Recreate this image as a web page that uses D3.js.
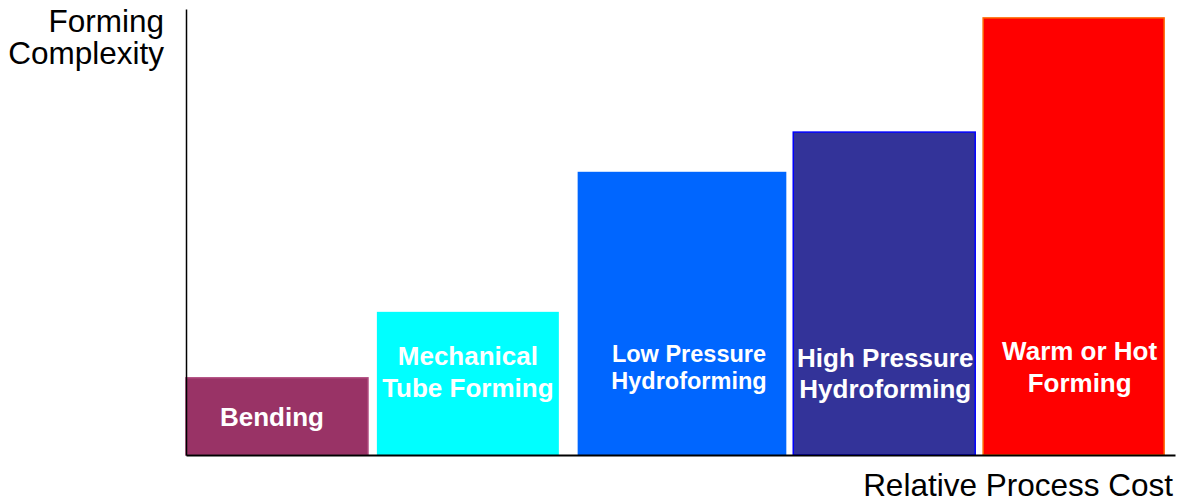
<!DOCTYPE html>
<html>
<head>
<meta charset="utf-8">
<script src="https://cdn.jsdelivr.net/npm/d3@7"></script>
<style>
  body { margin: 0; background: #fff; }
  text { font-family: "Liberation Sans", Arial, sans-serif; }
</style>
</head>
<body>
<svg id="chart"></svg>
<script>
// Dados
var processes = ["Bending", "Mechanical\nTube Forming", "Low Pressure\nHydroforming", "High Pressure\nHydroforming", "Warm or Hot\nForming"];
var costStart = [0, 19.3, 39.6, 61.4, 80.6];
var costEnd = [18.4, 37.7, 60.7, 79.8, 98.9];
var complexity = [17.3, 32.1, 63.5, 72.4, 98.0];
var fillColors = ["#993366", "#00FFFF", "#0066FF", "#333399", "#FF0000"];
var strokeColors = ["#B04A7E", "none", "none", "#0000FF", "#FF6600"];

var data = processes.map(function(p, i) {
  return {name: p, x0: costStart[i], x1: costEnd[i], v: complexity[i], fill: fillColors[i], stroke: strokeColors[i]};
});

var W = 1180, H = 502;
var margin = {top: 9, right: 5, bottom: 47, left: 186};

var svg = d3.select("#chart").attr("width", W).attr("height", H);

var x = d3.scaleLinear().domain([0, 100]).range([margin.left, W - margin.right]);
var y = d3.scaleLinear().domain([0, 100]).range([H - margin.bottom, margin.top]);

// Barras
svg.selectAll("rect.bar")
    .data(data)
  .enter().append("rect")
    .attr("class", "bar")
    .attr("x", function(d) { return x(d.x0); })
    .attr("y", function(d) { return y(d.v); })
    .attr("width", function(d) { return x(d.x1) - x(d.x0); })
    .attr("height", function(d) { return y(0) - y(d.v); })
    .style("fill", function(d) { return d.fill; })
    .style("stroke", function(d) { return d.stroke; })
    .style("stroke-width", 1.5);

// Rótulos
var labelSize = [26, 26, 23.5, 26, 26];
var labelBase = [426, 365, 362, 367, 360];
var lineGap = [0, 32, 27, 31, 32];
var labelDx = [-5, 0, 7, 1, 6];

data.forEach(function(d, i) {
  var lines = d.name.split("\n");
  var t = svg.append("text")
      .attr("text-anchor", "middle")
      .style("font-weight", "bold")
      .style("font-size", labelSize[i] + "px")
      .style("fill", "#fff");
  lines.forEach(function(l, j) {
    t.append("tspan")
      .attr("x", (x(d.x0) + x(d.x1)) / 2 + labelDx[i])
      .attr("y", labelBase[i] + j * lineGap[i])
      .text(l);
  });
});

// Eixos (sem marcas)
svg.append("g")
    .attr("transform", "translate(0," + y(0) + ")")
    .call(d3.axisBottom(x).tickValues([]).tickSizeOuter(0))
    .select(".domain").attr("stroke", "#000").attr("stroke-width", 2);

svg.append("g")
    .attr("transform", "translate(" + x(0) + ",0)")
    .call(d3.axisLeft(y).tickValues([]).tickSizeOuter(0))
    .select(".domain").attr("stroke", "#000").attr("stroke-width", 1.5);

// Títulos dos eixos
var yTitle = svg.append("text")
    .attr("text-anchor", "end")
    .style("font-size", "31.5px")
    .style("fill", "#000");
yTitle.append("tspan").attr("x", 164).attr("y", 32).text("Forming");
yTitle.append("tspan").attr("x", 164).attr("y", 64).text("Complexity");

svg.append("text")
    .attr("x", 1173)
    .attr("y", 496)
    .attr("text-anchor", "end")
    .style("font-size", "31.5px")
    .style("fill", "#000")
    .text("Relative Process Cost");
</script>
</body>
</html>
